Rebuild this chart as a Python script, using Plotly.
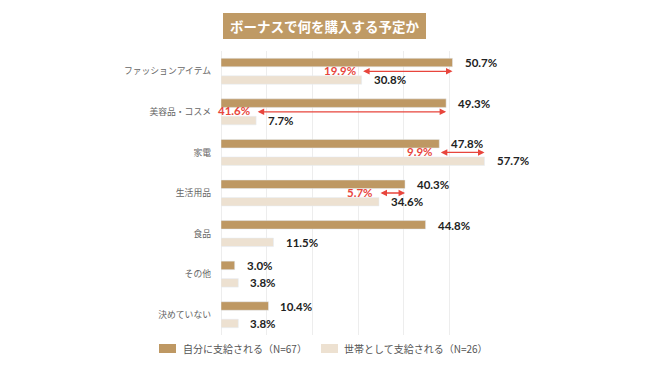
import plotly.graph_objects as go

categories = ["ファッションアイテム", "美容品・コスメ", "家電", "生活用品", "食品", "その他", "決めていない"]
self_paid = [50.7, 49.3, 47.8, 40.3, 44.8, 3.0, 10.4]
household = [30.8, 7.7, 57.7, 34.6, 11.5, 3.8, 3.8]
diff_labels = ["19.9%", "41.6%", "9.9%", "5.7%", None, None, None]
series_names = ["自分に支給される（N=67）", "世帯として支給される（N=26）"]
title_text = "ボーナスで何を購入する予定か"

DARK = "#BE9863"
LIGHT = "#EDE1D1"
RED = "#E8453C"
JP = "Noto Sans CJK JP"

# plot area in pixels
L, R, T, B = 221, 495, 51, 335
W, H = R - L, B - T


def px(x):
    return (x - L) / W


def py(y):
    return (B - y) / H


fig = go.Figure()
fig.add_trace(go.Bar(y=categories, x=self_paid, orientation="h", name=series_names[0],
                     marker=dict(color=DARK), showlegend=False, hoverinfo="x"))
fig.add_trace(go.Bar(y=categories, x=household, orientation="h", name=series_names[1],
                     marker=dict(color=LIGHT), showlegend=False, hoverinfo="x"))

annotations = []
for c, a, b in zip(categories, self_paid, household):
    annotations.append(dict(x=a, y=c, xref="x", yref="y", text=f"{a:.1f}%", showarrow=False,
                            xanchor="left", xshift=10, yshift=8.5,
                            font=dict(family="Lato", size=11.5, color="#222222", weight="bold")))
    annotations.append(dict(x=b, y=c, xref="x", yref="y", text=f"{b:.1f}%", showarrow=False,
                            xanchor="left", xshift=10, yshift=-8.5,
                            font=dict(family="Lato", size=11.5, color="#222222", weight="bold")))

for c, a, b, d in zip(categories, self_paid, household, diff_labels):
    if d is None:
        continue
    lo, hi = min(a, b), max(a, b)
    annotations.append(dict(x=hi, y=c, xref="x", yref="y", ax=lo, ay=c, axref="x", ayref="y",
                            text="", showarrow=True, arrowside="end+start", arrowhead=2,
                            arrowsize=1, arrowwidth=1.3, arrowcolor=RED, standoff=0, startstandoff=0))
    annotations.append(dict(x=lo, y=c, xref="x", yref="y", text=d, showarrow=False,
                            xanchor="right", xshift=-4, yshift=1,
                            font=dict(family="Lato", size=11.5, color=RED, weight="bold")))

# title box
annotations.append(dict(x=px(324.5), y=py(26), xref="paper", yref="paper", text=title_text,
                        showarrow=False, xanchor="center", yanchor="middle",
                        font=dict(family=JP, size=13.5, color="white", weight="bold")))

# custom legend
legend_items = [(159, 176, DARK, series_names[0], 181), (321, 338, LIGHT, series_names[1], 342)]
shapes = [dict(type="rect", xref="paper", yref="paper", x0=px(223), x1=px(426), y0=py(39), y1=py(13),
               fillcolor="#BF9A65", line=dict(width=0), layer="above")]
for x0, x1, col, name, tx in legend_items:
    shapes.append(dict(type="rect", xref="paper", yref="paper", x0=px(x0), x1=px(x1),
                       y0=py(353), y1=py(344), fillcolor=col, line=dict(width=0)))
    annotations.append(dict(x=px(tx), y=py(348.5), xref="paper", yref="paper", text=name,
                            showarrow=False, xanchor="left", yanchor="middle",
                            font=dict(family=JP, size=10, color="#555555")))

fig.update_layout(
    width=650, height=366,
    margin=dict(l=L, r=650 - R, t=T, b=366 - B),
    paper_bgcolor="white", plot_bgcolor="white",
    barmode="group", bargap=0.14, bargroupgap=0.51,
    xaxis=dict(range=[0, 60], dtick=10, showticklabels=False, showgrid=True, gridcolor="#EDEDED",
               gridwidth=1, zeroline=True, zerolinecolor="#EDEDED", zerolinewidth=1, fixedrange=True),
    yaxis=dict(autorange="reversed", showgrid=False, ticklabelstandoff=9,
               tickfont=dict(family=JP, size=8.8, color="#666666"), fixedrange=True),
    annotations=annotations, shapes=shapes,
    font=dict(family=JP),
)

fig.write_html("out.html", config={"displayModeBar": False},
               post_script="document.body.style.margin='0';")
